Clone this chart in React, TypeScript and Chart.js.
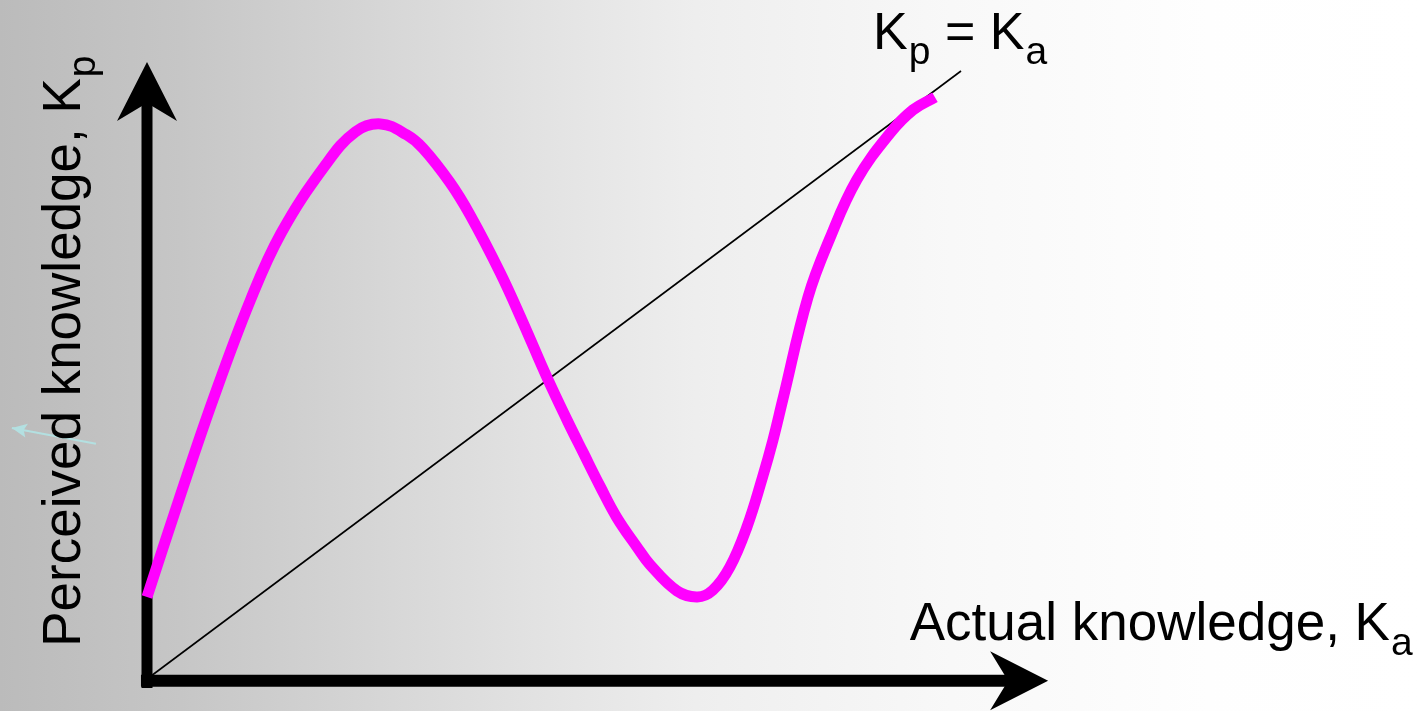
import React, { useEffect, useRef } from "react";
import { Chart, registerables } from "chart.js";

Chart.register(...registerables);

// ---- Data (Ka = actual knowledge, Kp = perceived knowledge) ----
const actualKnowledge = [
  0, 0.39, 0.81, 1.27, 1.65, 2.19, 2.56, 2.87, 3.19, 3.39, 3.72, 3.97, 4.34,
  4.62, 4.91, 5.16, 5.36, 5.57, 5.77, 6.02, 6.18, 6.51, 6.76, 6.95, 7.16, 7.37,
  7.56, 7.69, 7.81, 8.12, 8.39, 8.72, 9.13, 9.41, 9.68,
];
const perceivedKnowledge = [
  1.35, 2.94, 4.59, 6.23, 7.34, 8.45, 9.0, 9.13, 8.95, 8.73, 8.17, 7.63, 6.68,
  5.86, 4.97, 4.26, 3.72, 3.16, 2.66, 2.17, 1.88, 1.45, 1.35, 1.46, 1.84, 2.5,
  3.31, 3.93, 4.59, 6.28, 7.25, 8.21, 8.98, 9.36, 9.57,
];
const identityKa = [0, 10];
const identityKp = [0, 10];

// axis extents (data units)
const yAxisSpan = [-0.15, 10.15]; // at Ka = 0
const xAxisSpan = [-0.074, 11.07]; // at Kp = X_AXIS_LEVEL
const X_AXIS_LEVEL = -0.03;

// stray annotation arrow (from -> to)
const strayArrowKa = [-0.627, -1.66];
const strayArrowKp = [3.87, 4.13];

// labels
const xLabel = { text: "Actual knowledge, K", sub: "a", ka: 9.37, kp: 0.64 };
const yLabel = { text: "Perceived knowledge, K", sub: "p", ka: -0.82, kp: 0.53 };
const idLabelParts = [
  { text: "K", sub: false },
  { text: "p", sub: true },
  { text: " = K", sub: false },
  { text: "a", sub: true },
];
const idLabelPos = { ka: 8.92, kp: 10.36 };

const FONT_FAMILY = '"Liberation Sans", Arial, Helvetica, sans-serif';
const MAIN_SIZE = 53;
const SUB_SIZE = 39;
const SUB_SHIFT = 15;

const backgroundPlugin = {
  id: "bgGradient",
  beforeDraw(chart: any) {
    const { ctx, width, height } = chart;
    const g = ctx.createLinearGradient(0, 0, width, 0);
    g.addColorStop(0, "#bbbbbb");
    g.addColorStop(0.127, "#c6c6c6");
    g.addColorStop(0.32, "#dcdcdc");
    g.addColorStop(0.49, "#eeeeee");
    g.addColorStop(0.67, "#f8f8f8");
    g.addColorStop(0.85, "#fefefe");
    g.addColorStop(1, "#ffffff");
    ctx.save();
    ctx.fillStyle = g;
    ctx.fillRect(0, 0, width, height);
    ctx.restore();
  },
};

function arrowHead(ctx: any, tx: number, ty: number, angle: number, len: number, half: number, notch: number) {
  ctx.save();
  ctx.translate(tx, ty);
  ctx.rotate(angle);
  ctx.beginPath();
  ctx.moveTo(0, 0);
  ctx.lineTo(-len, -half);
  ctx.lineTo(-notch, 0);
  ctx.lineTo(-len, half);
  ctx.closePath();
  ctx.fill();
  ctx.restore();
}

const axesPlugin = {
  id: "axesArrows",
  beforeDatasetsDraw(chart: any) {
    const { ctx } = chart;
    const xs = chart.scales.x;
    const ys = chart.scales.y;
    ctx.save();
    ctx.fillStyle = "#000";
    ctx.strokeStyle = "#000";
    ctx.lineCap = "butt";
    const LEN = 59, HALF = 30, NOTCH = 41;
    // y axis
    const yx = xs.getPixelForValue(0);
    const yb = ys.getPixelForValue(yAxisSpan[0]);
    const yt = ys.getPixelForValue(yAxisSpan[1]);
    ctx.lineWidth = 11;
    ctx.beginPath();
    ctx.moveTo(yx, yb);
    ctx.lineTo(yx, yt + NOTCH - 2);
    ctx.stroke();
    arrowHead(ctx, yx, yt, -Math.PI / 2, LEN, HALF, NOTCH);
    // x axis
    const xy = ys.getPixelForValue(X_AXIS_LEVEL);
    const xl = xs.getPixelForValue(xAxisSpan[0]);
    const xr = xs.getPixelForValue(xAxisSpan[1]);
    ctx.lineWidth = 12;
    ctx.beginPath();
    ctx.moveTo(xl, xy);
    ctx.lineTo(xr - NOTCH + 2, xy);
    ctx.stroke();
    arrowHead(ctx, xr, xy, 0, 58, 29.5, 40);
    // stray light-cyan arrow
    const sx0 = xs.getPixelForValue(strayArrowKa[0]);
    const sy0 = ys.getPixelForValue(strayArrowKp[0]);
    const sx1 = xs.getPixelForValue(strayArrowKa[1]);
    const sy1 = ys.getPixelForValue(strayArrowKp[1]);
    ctx.strokeStyle = "#b3e0e1";
    ctx.fillStyle = "#b3e0e1";
    ctx.lineWidth = 2;
    ctx.beginPath();
    ctx.moveTo(sx0, sy0);
    ctx.lineTo(sx1, sy1);
    ctx.stroke();
    arrowHead(ctx, sx1, sy1, Math.atan2(sy1 - sy0, sx1 - sx0), 15, 7, 12);
    ctx.restore();
  },
};

function drawWithSub(ctx: any, main: string, sub: string) {
  ctx.font = `${MAIN_SIZE}px ${FONT_FAMILY}`;
  ctx.fillText(main, 0, 0);
  const w = ctx.measureText(main).width;
  ctx.font = `${SUB_SIZE}px ${FONT_FAMILY}`;
  ctx.fillText(sub, w + 1, SUB_SHIFT);
}

const labelsPlugin = {
  id: "labels",
  afterDatasetsDraw(chart: any) {
    const { ctx } = chart;
    const xs = chart.scales.x;
    const ys = chart.scales.y;
    ctx.save();
    ctx.fillStyle = "#000";
    ctx.textAlign = "left";
    ctx.textBaseline = "alphabetic";

    // x label
    ctx.save();
    ctx.translate(xs.getPixelForValue(xLabel.ka), ys.getPixelForValue(xLabel.kp));
    drawWithSub(ctx, xLabel.text, xLabel.sub);
    ctx.restore();

    // y label (rotated)
    ctx.save();
    ctx.translate(xs.getPixelForValue(yLabel.ka), ys.getPixelForValue(yLabel.kp));
    ctx.rotate(-Math.PI / 2);
    drawWithSub(ctx, yLabel.text, yLabel.sub);
    ctx.restore();

    // identity label
    ctx.save();
    ctx.translate(xs.getPixelForValue(idLabelPos.ka), ys.getPixelForValue(idLabelPos.kp));
    let cx = 0;
    for (const part of idLabelParts) {
      ctx.font = `${part.sub ? SUB_SIZE : 52}px ${FONT_FAMILY}`;
      ctx.fillText(part.text, cx + (part.sub ? 1 : 0), part.sub ? SUB_SHIFT : 0);
      cx += ctx.measureText(part.text).width + (part.sub ? 1 : 0);
    }
    ctx.restore();

    ctx.restore();
  },
};

export default function App() {
  const canvasRef = useRef<HTMLCanvasElement | null>(null);

  useEffect(() => {
    if (!canvasRef.current) return;
    const curve = actualKnowledge.map((ka, i) => ({ x: ka, y: perceivedKnowledge[i] }));
    const identity = identityKa.map((ka, i) => ({ x: ka, y: identityKp[i] }));
    const chart = new Chart(canvasRef.current, {
      type: "scatter",
      data: {
        datasets: [
          {
            label: "Kp(Ka)",
            data: curve,
            showLine: true,
            borderColor: "#ff00ff",
            borderWidth: 11,
            pointRadius: 0,
            tension: 0.4,
            borderCapStyle: "butt",
            borderJoinStyle: "round",
            clip: false,
            order: 0,
          } as any,
          {
            label: "Kp = Ka",
            data: identity,
            showLine: true,
            borderColor: "#000000",
            borderWidth: 1.6,
            pointRadius: 0,
            clip: false,
            order: 1,
          } as any,
        ],
      },
      options: {
        animation: false,
        responsive: true,
        maintainAspectRatio: false,
        layout: { padding: { left: 147, right: 459, top: 71, bottom: 32 } },
        plugins: {
          legend: { display: false },
          tooltip: { enabled: false },
        },
        events: [],
        scales: {
          x: { type: "linear", min: 0, max: 10, display: false },
          y: { type: "linear", min: 0, max: 10, display: false },
        },
      },
      plugins: [backgroundPlugin, axesPlugin, labelsPlugin],
    });
    return () => chart.destroy();
  }, []);

  return (
    <div style={{ position: "absolute", left: 0, top: 0, width: 1420, height: 711 }}>
      <canvas ref={canvasRef} />
    </div>
  );
}
